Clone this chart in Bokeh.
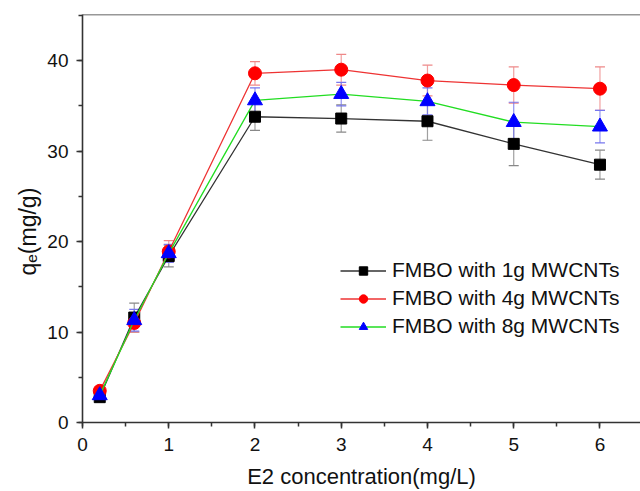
from bokeh.plotting import figure
from bokeh.models import (ColumnDataSource, Whisker, Legend, LegendItem, Span,
                          SingleIntervalTicker, Range1d, Title)
from bokeh.embed import file_html
from bokeh.resources import INLINE

x = [0.2, 0.6, 1, 2, 3, 4, 5, 6]
q1 = [2.8, 11.6, 18.4, 33.8, 33.6, 33.3, 30.8, 28.5]
e1 = [0.3, 1.6, 1.2, 1.5, 1.5, 2.1, 2.4, 1.6]
q4 = [3.5, 11.0, 18.9, 38.6, 39.0, 37.8, 37.3, 36.9]
e4 = [0.3, 1.0, 1.2, 1.3, 1.7, 1.7, 2.0, 2.4]
q8 = [3.0, 11.3, 18.7, 35.6, 36.3, 35.5, 33.2, 32.7]
e8 = [0.3, 1.2, 1.0, 1.4, 1.3, 1.5, 2.2, 1.8]
labels = ["FMBO with 1g MWCNTs", "FMBO with 4g MWCNTs", "FMBO with 8g MWCNTs"]
x_title = "E2 concentration(mg/L)"
y_title = "qₑ(mg/g)"

FONT = "Liberation Sans"
NAN = float("nan")

p = figure(width=640, height=491, output_backend="svg", toolbar_location=None,
           x_range=Range1d(0, 6.47), y_range=Range1d(0, 45.1),
           min_border_left=82, min_border_right=0, min_border_top=14, min_border_bottom=69)
p.outline_line_color = None
p.grid.visible = False
p.background_fill_color = "white"

for ax in (p.xaxis[0], p.yaxis[0]):
    ax.axis_line_color = "#333333"
    ax.axis_line_width = 1.6
    ax.major_tick_line_color = "#333333"
    ax.minor_tick_line_color = "#333333"
    ax.major_tick_line_width = 1.5
    ax.minor_tick_line_width = 1.5
    ax.major_tick_in = 0
    ax.major_tick_out = 6
    ax.minor_tick_in = 0
    ax.minor_tick_out = 4
    ax.major_label_text_font = FONT
    ax.major_label_text_font_size = "19px"
    ax.major_label_text_color = "#111111"
    ax.axis_label_text_font = FONT
    ax.axis_label_text_font_size = "22px"
    ax.axis_label_text_font_style = "normal"
    ax.axis_label_text_color = "#111111"

p.xaxis[0].ticker = SingleIntervalTicker(interval=1, num_minor_ticks=2)
p.yaxis[0].ticker = SingleIntervalTicker(interval=10, num_minor_ticks=2)
p.xaxis[0].axis_label = x_title
p.xaxis[0].major_label_standoff = 9
p.xaxis[0].axis_label_standoff = 10
p.yaxis[0].major_label_standoff = 8

p.add_layout(Title(text=y_title, align="left", offset=147, standoff=8,
                   text_font=FONT, text_font_size="23px", text_font_style="normal",
                   text_color="#111111"), "left")

p.add_layout(Span(location=45.1, dimension="width", line_color="#333333", line_width=1.6))

series = [
    (q1, e1, "#333333", "#888888", "square", 11, 9),
    (q4, e4, "#ee3333", "#ee8888", "circle", 13, 11),
    (q8, e8, "#22dd22", "#7777ee", "triangle", 15, 12),
]
fills = ["black", "red", "blue"]

items = []
for (q, e, lc, ec, mk, sz, lsz), fc, lab in zip(series, fills, labels):
    src = ColumnDataSource(dict(x=x, q=q, lo=[a - b for a, b in zip(q, e)],
                                hi=[a + b for a, b in zip(q, e)]))
    w = Whisker(source=src, base="x", upper="hi", lower="lo", line_color=ec,
                line_width=1.2, line_alpha=0.8)
    w.upper_head.size = 10
    w.lower_head.size = 10
    w.upper_head.line_color = ec
    w.lower_head.line_color = ec
    w.upper_head.line_width = 1.2
    w.lower_head.line_width = 1.2
    p.add_layout(w)
    lr = p.line("x", "q", source=src, line_color=lc, line_width=1.3)
    p.scatter("x", "q", source=src, marker=mk, size=sz, fill_color=fc, line_color=fc)
    proxy = p.scatter(x=[NAN], y=[NAN], marker=mk, size=lsz, fill_color=fc, line_color=fc)
    items.append(LegendItem(label=lab, renderers=[lr, proxy]))

legend = Legend(items=items, location=(258, 84), border_line_color=None,
                background_fill_alpha=0, padding=0, margin=0, spacing=4,
                label_text_font=FONT, label_text_font_size="21px",
                label_text_color="#111111", glyph_width=46, glyph_height=21,
                label_height=21, label_standoff=6)
p.add_layout(legend, "center")

open("out.html", "w").write(file_html(p, INLINE))
